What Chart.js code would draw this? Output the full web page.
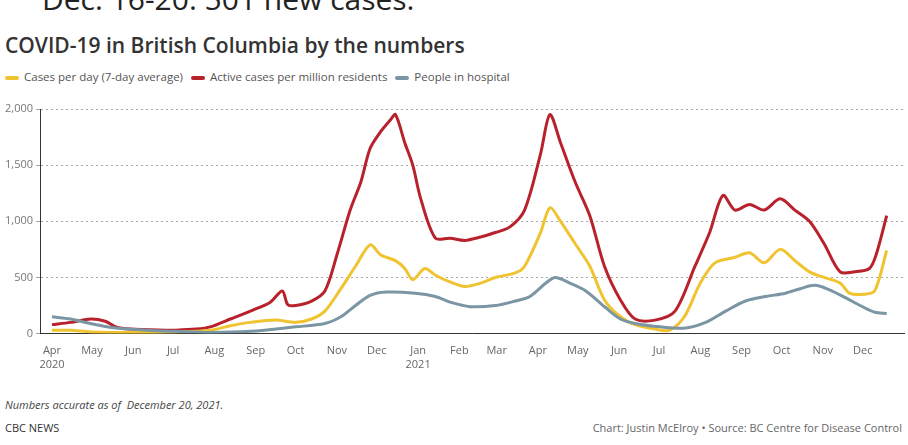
<!DOCTYPE html>
<html><head><meta charset="utf-8">
<script src="https://cdn.jsdelivr.net/npm/chart.js@4"></script>
<style>
body{margin:0;background:#fff;font-family:"Open Sans",sans-serif;color:#333;width:908px;height:445px;overflow:hidden;position:relative}
#top{position:absolute;left:42px;top:-22px;font-size:30px;color:#222}
#title{position:absolute;left:5px;top:31px;font-size:21px;font-weight:600;color:#333}
#legend{position:absolute;left:5px;top:69px;font-size:11.5px;color:#555}
#legend span{margin-right:8px}
#legend i{display:inline-block;width:14px;height:4px;border-radius:2px;vertical-align:middle;margin-right:5px}
#wrap{position:absolute;left:0;top:95px;width:908px;height:279px}
#note{position:absolute;left:5px;top:397px;font-size:11px;font-style:italic;color:#444}
#cbc{position:absolute;left:5px;top:420px;font-size:11px;color:#333}
#src{position:absolute;right:6px;top:420px;font-size:11px;color:#666}
</style></head><body>
<div id="top">Dec. 16-20: 501 new cases.</div>
<div id="title">COVID-19 in British Columbia by the numbers</div>
<div id="legend"><span><i style="background:#f0c330"></i>Cases per day (7-day average)</span><span><i style="background:#b8222c"></i>Active cases per million residents</span><span><i style="background:#7a95a3"></i>People in hospital</span></div>
<div id="wrap"><canvas id="c"></canvas></div>
<div id="note">Numbers accurate as of &nbsp;December 20, 2021.</div>
<div id="cbc">CBC NEWS</div>
<div id="src">Chart: Justin McElroy • Source: BC Centre for Disease Control</div>
<script>
// days since April 1, 2020
const activeDays = [0,14,29,40,48,59,85,93,108,119,134,149,164,173,177,183,195,205,214,224,232,239,247,254,258,265,271,277,288,299,310,322,333,344,355,367,374,382,393,404,415,427,438,453,468,483,494,504,513,524,535,547,558,569,580,592,603,614,619,627];
const activeVals = [80,100,130,110,60,40,30,30,40,60,130,200,280,380,260,250,290,380,700,1100,1350,1650,1800,1900,1950,1700,1500,1200,850,850,830,860,900,950,1100,1600,1950,1700,1350,1050,600,300,130,120,200,600,900,1230,1100,1150,1100,1200,1100,1000,800,550,550,580,700,1050];
const casesDays = [0,14,29,59,93,119,134,149,168,183,195,205,217,228,239,247,258,265,271,280,288,299,310,322,333,348,355,367,374,382,393,404,415,427,438,453,464,475,487,498,513,524,535,547,558,569,580,592,599,610,618,627];
const casesVals = [30,30,15,10,15,30,70,100,120,100,130,200,400,600,790,700,650,580,480,580,520,460,420,450,500,540,600,900,1120,1000,800,600,300,150,80,40,30,150,450,630,680,720,630,750,650,550,500,450,360,350,380,740];
const hospDays = [0,14,29,48,71,93,119,149,183,205,217,228,239,251,273,288,299,314,333,348,359,371,378,389,401,416,427,438,457,476,491,506,521,536,551,562,573,584,596,607,618,627];
const hospVals = [150,130,90,50,30,20,10,20,60,90,150,250,340,370,360,330,280,240,250,290,330,450,500,450,380,230,130,90,60,50,100,200,290,330,360,400,430,390,320,250,190,180];
const monthLabels = ['Apr','May','Jun','Jul','Aug','Sep','Oct','Nov','Dec','Jan','Feb','Mar','Apr','May','Jun','Jul','Aug','Sep','Oct','Nov','Dec'];
const yTicks = [0,500,1000,1500,2000];

const start = Date.UTC(2020,3,1);
const monthDays = monthLabels.map((m,i)=>Math.round((Date.UTC(2020,3+i,1)-start)/86400000));
const pts = (d,v)=>d.map((x,i)=>({x:x,y:v[i]}));
const ds = (d,v,c)=>({data:pts(d,v),borderColor:c,borderWidth:3,pointRadius:0,tension:0.3,fill:false});

new Chart(document.getElementById('c'),{
  type:'line',
  data:{datasets:[ds(hospDays,hospVals,'#7a95a3'),ds(casesDays,casesVals,'#f0c330'),ds(activeDays,activeVals,'#b8222c')]},
  options:{
    responsive:true,maintainAspectRatio:false,animation:false,
    layout:{padding:{left:2,right:4,top:14}},
    plugins:{legend:{display:false},tooltip:{enabled:false}},
    scales:{
      x:{type:'linear',min:-9,max:640,
        afterBuildTicks:a=>{a.ticks=monthDays.map(v=>({value:v}));},
        ticks:{autoSkip:false,maxRotation:0,color:'#666',font:{family:'Open Sans',size:11},
          callback:(v,i)=>i===0?['Apr','2020']:i===9?['Jan','2021']:monthLabels[i]},
        grid:{display:false},border:{color:'#333'}},
      y:{min:0,max:2000,
        afterBuildTicks:a=>{a.ticks=yTicks.map(v=>({value:v}));},
        ticks:{color:'#777',font:{family:'Open Sans',size:11},callback:v=>v.toLocaleString('en-US')},
        grid:{color:'#aaa',tickLength:4,drawTicks:true},
        border:{display:true,color:'#333',dash:[2,3]}}
    }
  }
});
</script>
</body></html>
